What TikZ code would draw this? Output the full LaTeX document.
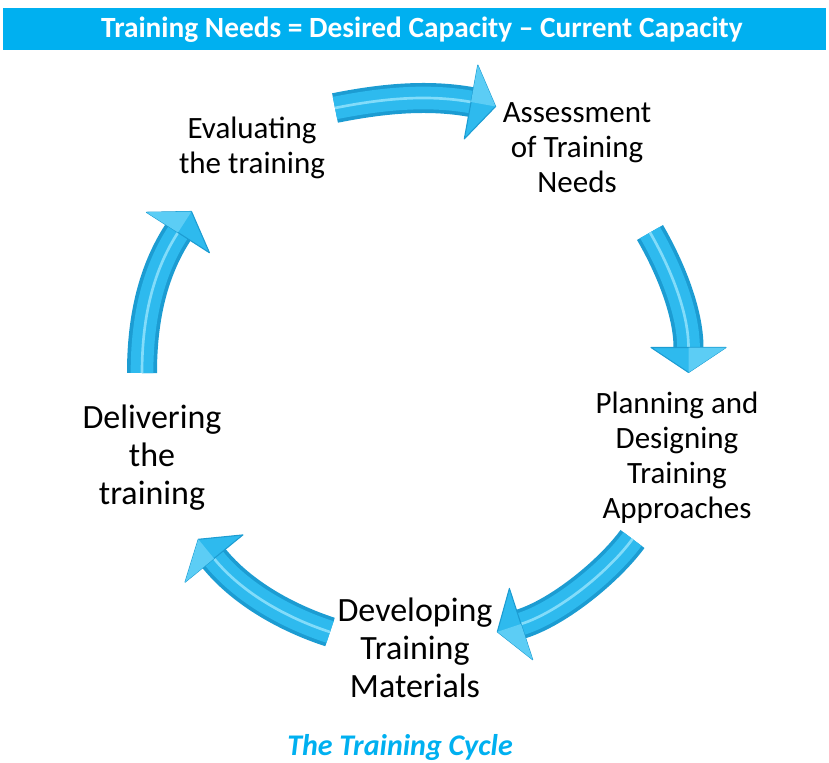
\documentclass[tikz,border=0pt]{standalone}
\usepackage{fontspec}
\setmainfont{Carlito}
\definecolor{hdr}{RGB}{0,176,240}
\definecolor{arrowdark}{RGB}{28,156,210}
\definecolor{arrowmain}{RGB}{46,186,238}
\definecolor{arrowlight}{RGB}{130,220,250}
\newcommand\cycarrow[7]{%
  \draw[line width=22.5pt, arrowdark] (#1) .. controls (#2) and (#3) .. (#4);
  \draw[line width=17pt, arrowmain] (#1) .. controls (#2) and (#3) .. (#4);
  \draw[line width=2pt, arrowlight] (#1) .. controls (#2) and (#3) .. (#4);
  \filldraw[fill=arrowmain, draw=arrowdark, line width=0.8pt, line join=round] (#5) -- (#6) -- (#7) -- cycle;
  \fill[arrowlight!55!arrowmain] (#5) -- (#6) -- (#4) -- cycle;
}
\tikzset{
  smalllbl/.style={align=center, font=\fontsize{23.25}{26.25}\selectfont, text=black, inner sep=0pt},
  biglbl/.style={align=center, font=\fontsize{25.5}{28.5}\selectfont, text=black, inner sep=0pt}
}
\begin{document}
\begin{tikzpicture}[x=0.75pt,y=-0.75pt]
\useasboundingbox (0,0) rectangle (829,763);
\fill[hdr] (3,8) rectangle (826,50);
\node[text=white, font=\fontsize{22}{26}\selectfont\bfseries, inner sep=0pt] (title) at (422,30) {Training Needs = Desired Capacity – Current Capacity};

% arrow 1 (top)
\coordinate (t1) at (335,108); \coordinate (c1a) at (380,99); \coordinate (c1b) at (426,94); \coordinate (b1) at (471,102);
\coordinate (w1a) at (477.8,65.1); \coordinate (p1) at (495.6,106.5); \coordinate (w1b) at (464.3,138.9);
\cycarrow{t1}{c1a}{c1b}{b1}{w1a}{p1}{w1b}
% arrow 2 (right)
\coordinate (t2) at (650,232.5); \coordinate (c2a) at (670,267); \coordinate (c2b) at (688.5,312); \coordinate (b2) at (688.5,347.5);
\coordinate (w2a) at (726,347.5); \coordinate (p2) at (688.5,372.5); \coordinate (w2b) at (651,347.5);
\cycarrow{t2}{c2a}{c2b}{b2}{w2a}{p2}{w2b}
% arrow 3 (bottom right)
\coordinate (t3) at (632.5,539); \coordinate (c3a) at (609,571); \coordinate (c3b) at (559,612); \coordinate (b3) at (521,624);
\coordinate (w3a) at (532.6,659.6); \coordinate (p3) at (497.3,631.8); \coordinate (w3b) at (509.4,588.4);
\cycarrow{t3}{c3a}{c3b}{b3}{w3a}{p3}{w3b}
% arrow 4 (bottom left)
\coordinate (t4) at (330,632); \coordinate (c4a) at (287,618); \coordinate (c4b) at (242,593); \coordinate (b4) at (214,558.5);
\coordinate (w4a) at (185.1,582.1); \coordinate (p4) at (198.3,539.3); \coordinate (w4b) at (242.9,534.9);
\cycarrow{t4}{c4a}{c4b}{b4}{w4a}{p4}{w4b}
% arrow 5 (left)
\coordinate (t5) at (142,373); \coordinate (c5a) at (142,323); \coordinate (c5b) at (151,274); \coordinate (b5) at (178,232.5);
\coordinate (w5a) at (146.5,212.3); \coordinate (p5) at (191.5,211.5); \coordinate (w5b) at (209.5,252.8);
\cycarrow{t5}{c5a}{c5b}{b5}{w5a}{p5}{w5b}

\node[smalllbl] (assess) at (577,148) {Assessment\\of Training\\Needs};
\node[smalllbl] (plan) at (677,458) {Planning and\\Designing\\Training\\Approaches};
\node[biglbl] (develop) at (415,648) {Developing\\Training\\Materials};
\node[biglbl] (deliver) at (152,458) {Delivering\\the\\training};
\node[smalllbl] (eval) at (252,148) {Evaluating\\the training};

\node[text=hdr, font=\fontsize{22.5}{26}\selectfont\bfseries\itshape, anchor=base, inner sep=0pt] (caption) at (400,755) {The Training Cycle};
\end{tikzpicture}
\end{document}
